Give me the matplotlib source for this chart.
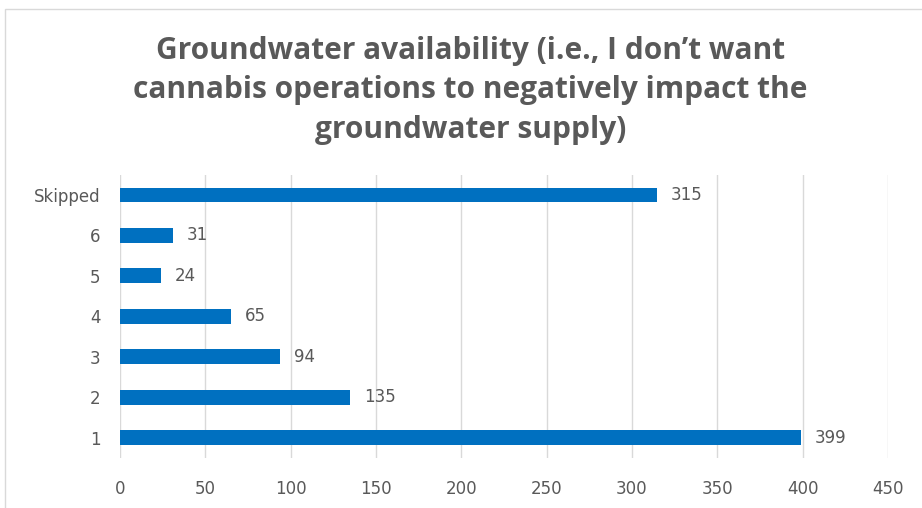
import matplotlib.pyplot as plt
from matplotlib.patches import Rectangle

# survey responses
categories = ['1', '2', '3', '4', '5', '6', 'Skipped']
counts = [399, 135, 94, 65, 24, 31, 315]
xticks = [0, 50, 100, 150, 200, 250, 300, 350, 400, 450]

title = ('Groundwater availability (i.e., I don\u2019t want\n'
         'cannabis operations to negatively impact the\n'
         'groundwater supply)')

grey = '#595959'
blue = '#0070C0'

fig = plt.figure(figsize=(9.22, 5.08), dpi=100)
ax = fig.add_axes([0.130, 0.098, 0.833, 0.558])

y = range(len(categories))
ax.barh(y, counts, height=0.37, color=blue, zorder=3)
for yi, v in zip(y, counts):
    ax.text(v + 8, yi, str(v), va='center', ha='left', fontsize=12, color=grey)

ax.set_yticks(list(y))
ax.set_yticklabels(categories)
ax.set_ylim(-0.5, len(categories) - 0.5)
ax.set_xlim(0, 450)
ax.set_xticks(xticks)
ax.grid(axis='x', color='#D9D9D9', linewidth=1, zorder=0)
for s in ax.spines.values():
    s.set_visible(False)
ax.tick_params(axis='both', length=0, labelsize=12, labelcolor=grey)
ax.tick_params(axis='x', pad=16)
ax.tick_params(axis='y', pad=14)

fig.text(0.51, 0.822, title, ha='center', va='center', fontsize=21.5,
         fontweight='bold', color=grey, linespacing=1.42, family='Open Sans')

# chart border
fig.patches.append(Rectangle((5 / 922, -0.1), 1.2, 1 - 9 / 508 + 0.1,
                             transform=fig.transFigure, fill=False,
                             edgecolor='#D9D9D9', linewidth=1))

fig.savefig('out.png', dpi=100)
